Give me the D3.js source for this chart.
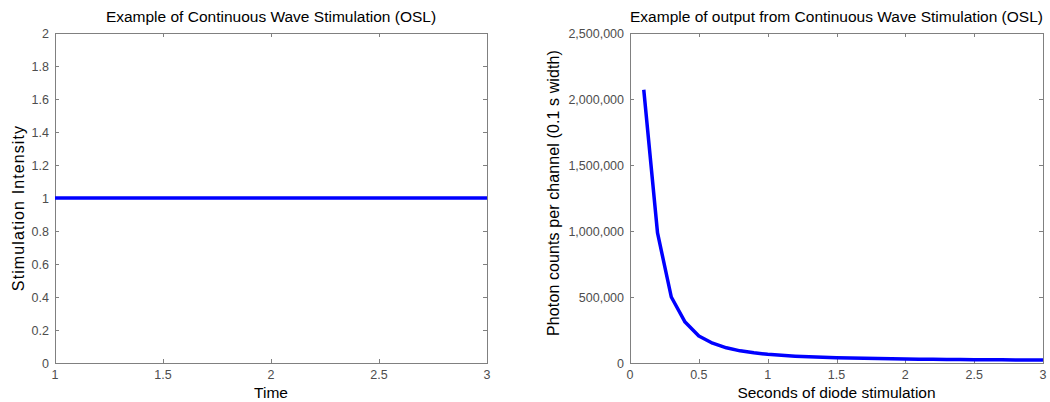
<!DOCTYPE html>
<html><head><meta charset="utf-8">
<script src="https://cdn.jsdelivr.net/npm/d3@7"></script>
<style>
body{margin:0;background:#fff;}
text{font-family:"Liberation Sans",Arial,sans-serif;}
</style></head><body>
<svg id="c" width="1050" height="402"></svg>
<script>
// Left chart data
const leftTime = [1, 3];
const leftIntensity = [1, 1];
const leftXTicks = [1, 1.5, 2, 2.5, 3];
const leftYTicks = [0, 0.2, 0.4, 0.6, 0.8, 1, 1.2, 1.4, 1.6, 1.8, 2];

// Right chart data
const rightSeconds = [0.1,0.2,0.3,0.4,0.5,0.6,0.7,0.8,0.9,1.0,1.1,1.2,1.3,1.4,1.5,1.6,1.7,1.8,1.9,2.0,2.1,2.2,2.3,2.4,2.5,2.6,2.7,2.8,2.9,3.0];
const rightCounts = [2070000,985000,500000,310000,205000,150000,115000,92000,77000,66000,58000,52000,47000,43000,40000,37500,35500,33500,32000,30500,29300,28200,27200,26300,25500,24800,24200,23600,23100,22600];
const rightXTicks = [0, 0.5, 1, 1.5, 2, 2.5, 3];
const rightYTicks = [0, 500000, 1000000, 1500000, 2000000, 2500000];

const svg = d3.select("#c");
const axisColor = "#808080";
const textColor = "#4d4d4d";

function panel(cfg){
  const g = svg.append("g");
  const x = d3.scaleLinear().domain(cfg.xd).range([cfg.x0, cfg.x1]);
  const y = d3.scaleLinear().domain(cfg.yd).range([cfg.y1, cfg.y0]);
  const tl = 4;
  g.append("rect").attr("x", cfg.x0+0.5).attr("y", cfg.y0+0.5).attr("width", cfg.x1-cfg.x0).attr("height", cfg.y1-cfg.y0)
    .attr("fill","none").attr("stroke",axisColor).attr("stroke-width",1);
  cfg.xt.forEach(v=>{
    const px = Math.round(x(v))+0.5;
    g.append("line").attr("x1",px).attr("x2",px).attr("y1",cfg.y1).attr("y2",cfg.y1-tl).attr("stroke",axisColor);
    g.append("line").attr("x1",px).attr("x2",px).attr("y1",cfg.y0).attr("y2",cfg.y0+tl).attr("stroke",axisColor);
    g.append("text").attr("x",x(v)).attr("y",cfg.y1+16).attr("text-anchor","middle")
      .attr("font-size",12.5).attr("fill",textColor).text(cfg.xf(v));
  });
  cfg.yt.forEach(v=>{
    const py = Math.round(y(v))+0.5;
    g.append("line").attr("x1",cfg.x0).attr("x2",cfg.x0+tl).attr("y1",py).attr("y2",py).attr("stroke",axisColor);
    g.append("line").attr("x1",cfg.x1).attr("x2",cfg.x1-tl).attr("y1",py).attr("y2",py).attr("stroke",axisColor);
    g.append("text").attr("x",cfg.x0-6).attr("y",y(v)+4.5).attr("text-anchor","end")
      .attr("font-size",12.5).attr("fill",textColor).text(cfg.yf(v));
  });
  const line = d3.line().x(d=>x(d[0])).y(d=>y(d[1]));
  g.append("path").datum(d3.zip(cfg.xs, cfg.ys)).attr("d", line)
    .attr("fill","none").attr("stroke","#0000ff").attr("stroke-width",3.5).attr("stroke-linejoin","round");
  g.append("text").attr("x",(cfg.x0+cfg.x1)/2).attr("y",cfg.y0-11).attr("text-anchor","middle")
    .attr("font-size",15.5).attr("fill","#000").text(cfg.title);
  g.append("text").attr("x",(cfg.x0+cfg.x1)/2).attr("y",cfg.y1+35).attr("text-anchor","middle")
    .attr("font-size",15.5).attr("fill","#000").text(cfg.xl);
  g.append("text").attr("transform",`translate(${cfg.ylx},${cfg.ylc}) rotate(-90)`).attr("text-anchor","middle")
    .attr("font-size",16).attr("letter-spacing",cfg.yls).attr("fill","#000").text(cfg.yl);
}

panel({xd:[1,3], yd:[0,2], x0:55, x1:487, y0:33, y1:363, xt:leftXTicks, yt:leftYTicks,
  xf:d=>String(d), yf:d=>String(+d.toFixed(1)), xs:leftTime, ys:leftIntensity,
  title:"Example of Continuous Wave Stimulation (OSL)", xl:"Time", yl:"Stimulation Intensity",
  ylx:24, ylc:208, yls:1.1});

panel({xd:[0,3], yd:[0,2500000], x0:630, x1:1043, y0:33, y1:363, xt:rightXTicks, yt:rightYTicks,
  xf:d=>String(d), yf:d3.format(","), xs:rightSeconds, ys:rightCounts,
  title:"Example of output from Continuous Wave Stimulation (OSL)", xl:"Seconds of diode stimulation",
  yl:"Photon counts per channel (0.1 s width)", ylx:559, ylc:193, yls:0.1});
</script>
</body></html>
